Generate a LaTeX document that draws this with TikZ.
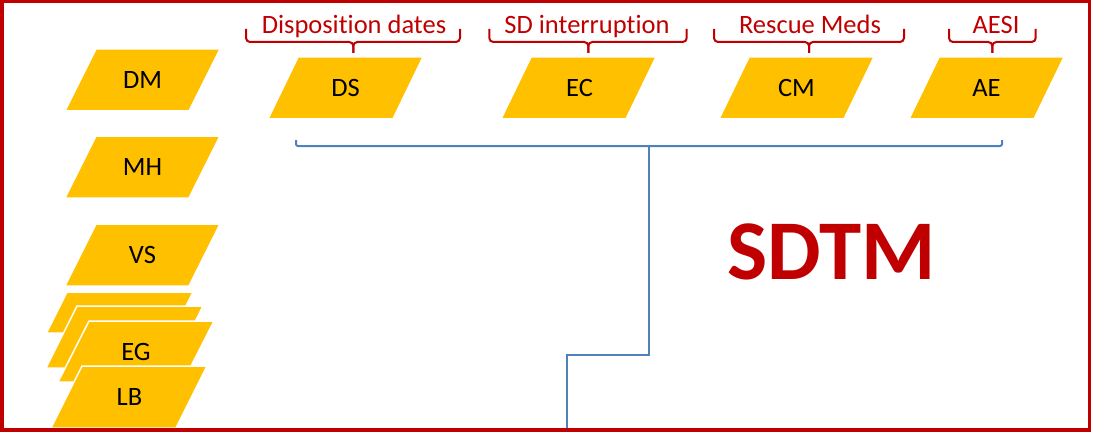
\documentclass[tikz,border=0pt]{standalone}
\usepackage{fontspec}
\setmainfont{Carlito}[Ligatures=NoCommon]
\definecolor{sdred}{RGB}{192,0,0}
\definecolor{yel}{RGB}{255,192,0}
\definecolor{sdblue}{RGB}{79,129,189}
\tikzset{
  pgram/.style={fill=yel, draw=white, line width=1.5pt, line join=miter},
  lbl/.style={font=\fontsize{26.5}{30}\selectfont, text=black, inner sep=0pt},
  bracepath/.style={draw=sdred, line width=2pt, rounded corners=4pt},
  bracetxt/.style={font=\fontsize{26.5}{30}\selectfont, text=sdred, anchor=base, inner sep=0pt},
  conn/.style={draw=sdblue, line width=2pt},
  frame/.style={draw=sdred, line width=3.5pt}
}
\begin{document}
\begin{tikzpicture}[x=1pt,y=-1pt]
\useasboundingbox (0,0) rectangle (1094,433);
\fill[white] (0,0) rectangle (1094,433);

% left column
\path[pgram] (96,49) -- (220,49) -- (189,111) -- (65,111) -- cycle;
\node[lbl] (dm) at (142.5,80) {DM};
\path[pgram] (96,136) -- (220,136) -- (189,198) -- (65,198) -- cycle;
\node[lbl] (mh) at (142.5,167) {MH};
\path[pgram] (96,224) -- (220,224) -- (189,286) -- (65,286) -- cycle;
\node[lbl] (vs) at (142.5,255) {VS};
% stack
\path[pgram] (67,292) -- (193,292) -- (172.5,333) -- (46.5,333) -- cycle;
\path[pgram] (77,306) -- (203,306) -- (172,368) -- (46,368) -- cycle;
\path[pgram] (89,321) -- (214,321) -- (183,382) -- (58,382) -- cycle;
\node[lbl] (eg) at (136,351.5) {EG};
\path[pgram] (82,366) -- (207,366) -- (176,428) -- (51,428) -- cycle;
\node[lbl] (lb) at (129.5,397) {LB};

% top row
\path[pgram] (298,57) -- (423,57) -- (393,119) -- (268,119) -- cycle;
\node[lbl] (ds) at (345.5,88) {DS};
\path[pgram] (531,57) -- (656,57) -- (626,119) -- (501,119) -- cycle;
\node[lbl] (ec) at (579.5,88) {EC};
\path[pgram] (749,57) -- (874,57) -- (844,119) -- (719,119) -- cycle;
\node[lbl] (cm) at (796.5,88) {CM};
\path[pgram] (939,57) -- (1064,57) -- (1034,119) -- (909,119) -- cycle;
\node[lbl] (ae) at (986.5,88) {AE};

% braces
\draw[bracepath] (246,29) |- (353.3,42) -- (353.3,53);
\draw[bracepath] (460,29) |- (353.3,42) -- (353.3,53);
\node[bracetxt] (t1) at (354,33.5) {Disposition dates};
\draw[bracepath] (489.3,29) |- (588.3,42) -- (588.3,53);
\draw[bracepath] (686.7,29) |- (588.3,42) -- (588.3,53);
\node[bracetxt] (t2) at (587,33.5) {SD interruption};
\draw[bracepath] (714,29) |- (809,42) -- (809,53);
\draw[bracepath] (904,29) |- (809,42) -- (809,53);
\node[bracetxt] (t3) at (810,33.5) {Rescue Meds};
\draw[bracepath] (949,29) |- (992.3,42) -- (992.3,53);
\draw[bracepath] (1035.7,29) |- (992.3,42) -- (992.3,53);
\node[bracetxt] (t4) at (996,33.5) {AESI};

% blue bracket and connector
\coordinate (bl) at (296,140);
\coordinate (br) at (1002,140);
\coordinate (bm) at (648.5,146);
\coordinate (bot) at (567,431);
\draw[conn, rounded corners=2pt] (bl) |- (bm) -| (br);
\draw[conn] (bm) -- (648.5,355) -| (bot);

% title
\node[font=\bfseries\fontsize{85}{85}\selectfont, text=sdred, inner sep=0pt] (sdtm) at (831.5,252) {SDTM};

% frame
\draw[frame] (1.75,1.75) rectangle (1089.5,430);
\end{tikzpicture}
\end{document}
